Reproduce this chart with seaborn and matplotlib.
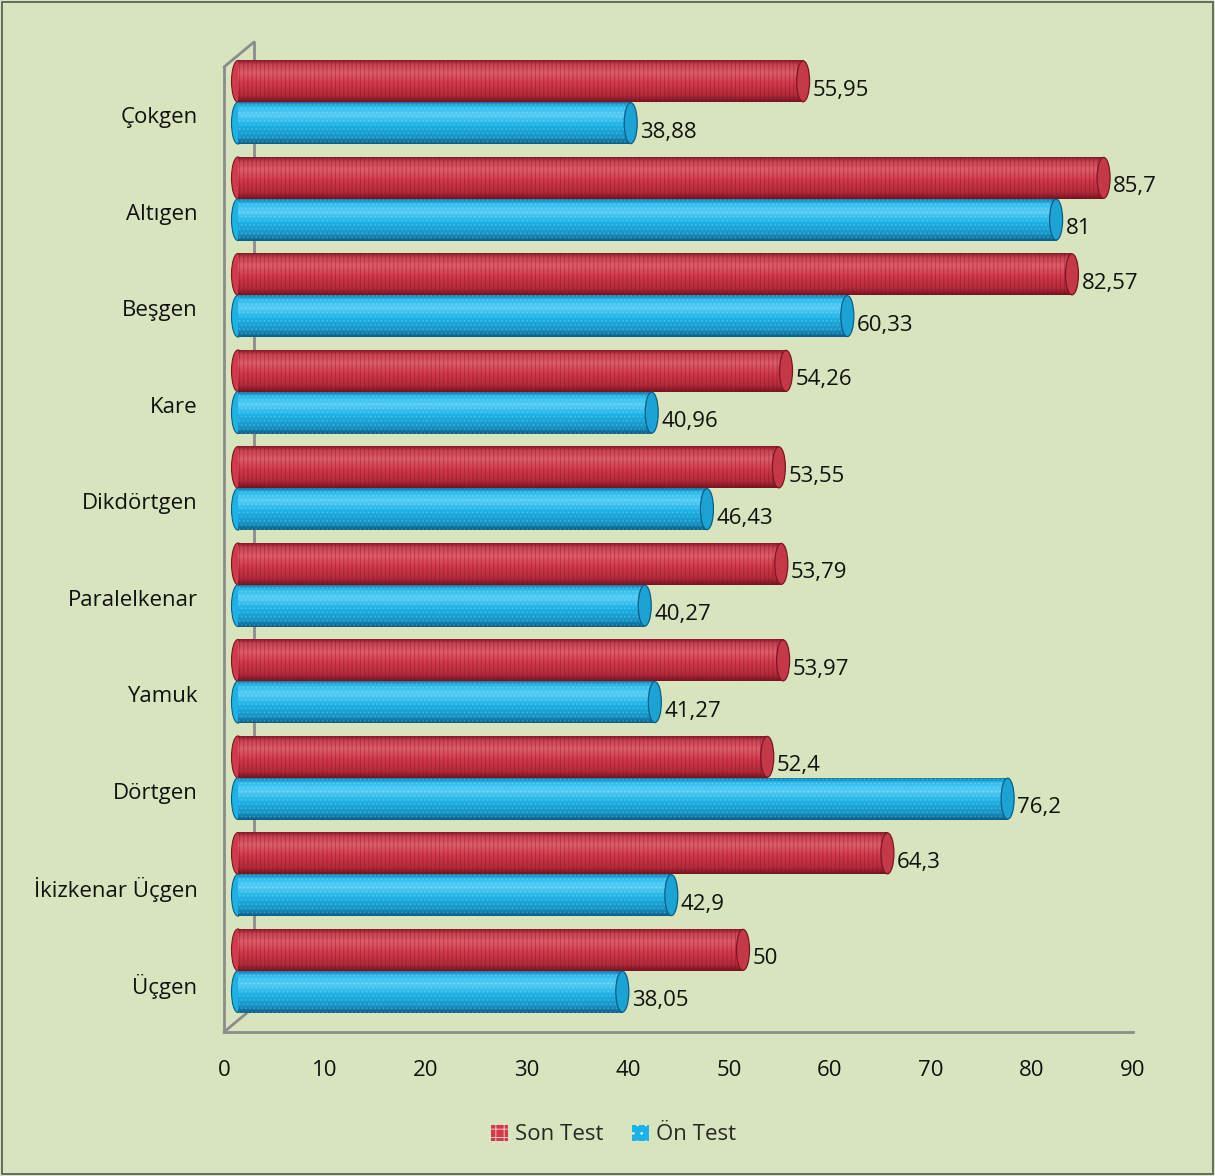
import numpy as np
import pandas as pd
import matplotlib
matplotlib.use('Agg')
import matplotlib.pyplot as plt
import seaborn as sns
from matplotlib.patches import Ellipse, Rectangle, Patch
from matplotlib.transforms import ScaledTranslation
from matplotlib.colors import LinearSegmentedColormap

categories = ['Çokgen', 'Altıgen', 'Beşgen', 'Kare', 'Dikdörtgen', 'Paralelkenar',
              'Yamuk', 'Dörtgen', 'İkizkenar Üçgen', 'Üçgen']
son_test = [55.95, 85.7, 82.57, 54.26, 53.55, 53.79, 53.97, 52.4, 64.3, 50]
on_test = [38.88, 81, 60.33, 40.96, 46.43, 40.27, 41.27, 76.2, 42.9, 38.05]
series = ['Son Test', 'Ön Test']
x_ticks = [0, 10, 20, 30, 40, 50, 60, 70, 80, 90]

df = pd.DataFrame({
    'Kategori': categories * 2,
    'Seri': [series[0]] * len(categories) + [series[1]] * len(categories),
    'Değer': son_test + on_test,
})

sns.set_theme(style='white')
plt.rcParams['font.family'] = ['Open Sans', 'DejaVu Sans']
plt.rcParams['hatch.linewidth'] = 0.7

BG = '#D7E4BD'
FS = 16
fig = plt.figure(figsize=(12.15, 11.76), dpi=100, facecolor=BG)
ax = fig.add_axes([0.18436, 0.12245, 0.74815, 0.82058])
ax.set_facecolor('none')

palette = {'Son Test': '#D63E4F', 'Ön Test': '#1EB3E6'}
sns.barplot(data=df, y='Kategori', x='Değer', hue='Seri', hue_order=series,
            order=categories, orient='h', palette=palette, width=0.866,
            legend=False, ax=ax, saturation=1, zorder=3, errorbar=None)

dpi_t = fig.dpi_scale_trans
off = ScaledTranslation(14 / 100, 13 / 100, dpi_t)
trans = ax.transData + off
lab_trans = ax.transData + ScaledTranslation(23.5 / 100, 4 / 100, dpi_t)

red_cmap = LinearSegmentedColormap.from_list('r', [
    (0.0, '#8A1B2A'), (0.10, '#C94352'), (0.30, '#DE5E6B'), (0.55, '#D23A4B'),
    (0.85, '#B22A3A'), (1.0, '#761522')])
blue_cmap = LinearSegmentedColormap.from_list('b', [
    (0.0, '#127BA8'), (0.10, '#2EBDEE'), (0.30, '#55CCF4'), (0.55, '#1DB2E6'),
    (0.85, '#1592C4'), (1.0, '#0C5E84')])
grad = np.linspace(0, 1, 64).reshape(-1, 1)

cap_w = 13 / 10.1
bars = list(ax.patches)
for p in bars:
    w = p.get_width(); y = p.get_y(); h = p.get_height()
    yc = y + h / 2
    idx = int(round(yc))
    is_son = yc < idx
    cmap = red_cmap if is_son else blue_cmap
    dark = '#7A1624' if is_son else '#0C5E84'
    base = '#D23A4B' if is_son else '#1DB2E6'
    capc = '#C43848' if is_son else '#1BA3D6'
    p.set_transform(trans)
    p.set_linewidth(0)
    p.set_clip_on(False)
    # left rounded end
    ax.add_patch(Ellipse((0, yc), cap_w, h, transform=trans, facecolor=base,
                         edgecolor=dark, lw=0.8, zorder=2.9, clip_on=False))
    im = ax.imshow(grad, cmap=cmap, extent=(0, w, y + h, y), origin='upper',
                   aspect='auto', interpolation='bilinear', transform=trans, zorder=3.1)
    im.set_clip_box(fig.bbox)
    im.set_clip_path(p)
    if is_son:
        ax.add_patch(Rectangle((0, y), w, h, transform=trans, facecolor='none',
                               edgecolor=(0.45, 0.05, 0.12, 0.35), lw=0, hatch='||||',
                               zorder=3.2, clip_on=False))
    else:
        ax.add_patch(Rectangle((0, y), w, h, transform=trans, facecolor='none',
                               edgecolor=(1, 1, 1, 0.18), lw=0, hatch='....',
                               zorder=3.2, clip_on=False))
    ax.add_patch(Ellipse((w, yc), cap_w, h * 0.98, transform=trans, facecolor=capc,
                         edgecolor=dark, lw=0.9, zorder=3.3, clip_on=False))
    v = son_test[idx] if is_son else on_test[idx]
    ax.text(w, yc, f"{v:g}".replace('.', ','), transform=lab_trans, ha='left',
            va='center', fontsize=FS, color='#111111', zorder=5)

ax.set_xlim(0, 90)
ax.set_ylim(9.5, -0.5)
ax.set_aspect('auto')
ax.set_xticks(x_ticks)
ax.set_xticklabels([str(t) for t in x_ticks])
ax.set_xlabel('')
ax.set_ylabel('')
ax.tick_params(axis='x', length=0, pad=20, labelsize=FS, colors='#111111')
ax.tick_params(axis='y', length=0, pad=19, labelsize=FS, colors='#111111')
for s in ['top', 'right']:
    ax.spines[s].set_visible(False)
for s in ['left', 'bottom']:
    ax.spines[s].set_color('#8C8C8C')
    ax.spines[s].set_linewidth(2)
    ax.spines[s].set_zorder(1)

# 3D wall lines
wall = ax.transAxes + ScaledTranslation(30 / 100, 25 / 100, dpi_t)
ax.plot([0, 0], [0, 1], transform=wall, color='#8C8C8C', lw=2, clip_on=False, zorder=1)
for yy in (0, 1):
    ax.plot([0, 30 / ax.bbox.width], [yy, yy + 25 / ax.bbox.height],
            transform=ax.transAxes, color='#8C8C8C', lw=2, clip_on=False, zorder=1)

handles = [Patch(facecolor='#D23A4B', edgecolor=(1, 1, 1, 0.7), hatch='++', lw=0, label='Son Test'),
           Patch(facecolor='#1DB2E6', edgecolor=(1, 1, 1, 0.8), hatch='..', lw=0, label='Ön Test')]
fig.legend(handles=handles, loc='center', bbox_to_anchor=(0.505, 1 - 1135 / 1176), ncol=2,
           frameon=False, fontsize=FS, handlelength=0.75, handleheight=0.75,
           handletextpad=0.3, columnspacing=1.3)

fig.add_artist(Rectangle((0.002, 0.0015), 0.9965, 0.997, transform=fig.transFigure,
                         fill=False, edgecolor='#555555', lw=1.2))

fig.savefig('out.png', dpi=100, facecolor=BG)
